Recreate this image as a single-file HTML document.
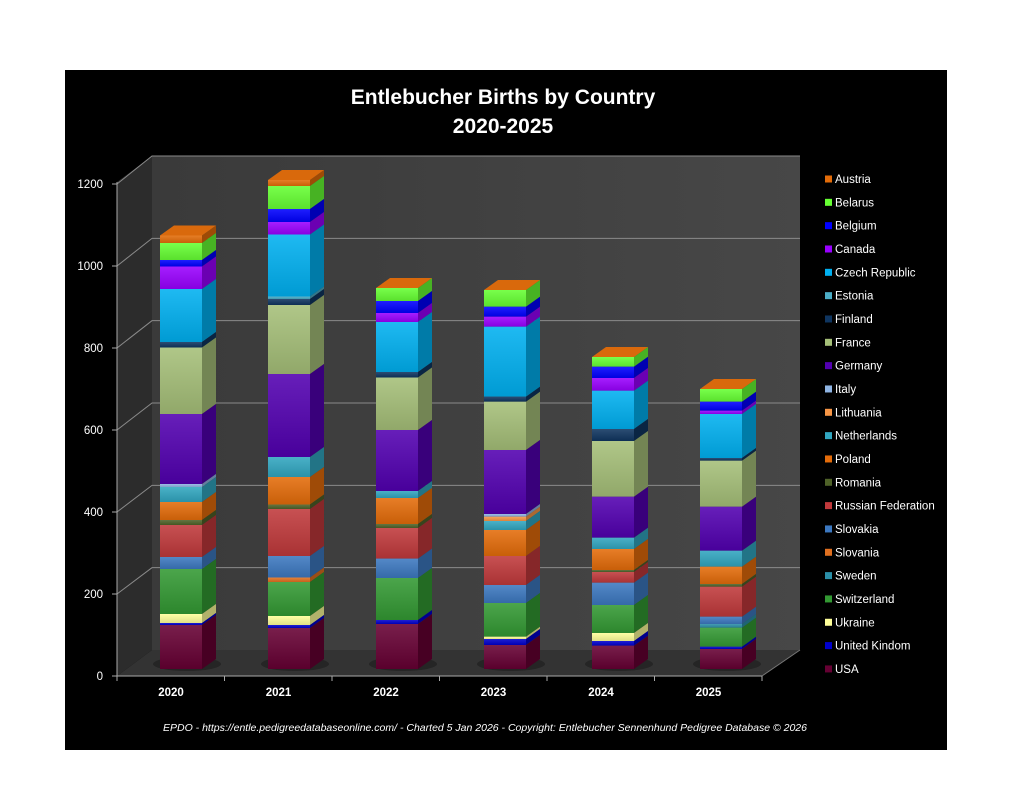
<!DOCTYPE html>
<html><head><meta charset="utf-8"><style>
html,body{margin:0;padding:0;background:#fff;}
svg{display:block;font-family:"Liberation Sans",sans-serif;}
</style></head><body>
<svg id="s" width="1024" height="792" viewBox="0 0 1024 792" xmlns="http://www.w3.org/2000/svg">
<defs>
<linearGradient id="bw" x1="0" y1="0" x2="1" y2="0"><stop offset="0" stop-color="#3a3a3a"/><stop offset="1" stop-color="#474747"/></linearGradient>
<linearGradient id="shade" x1="0" y1="0" x2="0" y2="1"><stop offset="0" stop-color="#fff" stop-opacity="0.12"/><stop offset="1" stop-color="#000" stop-opacity="0.12"/></linearGradient>
</defs>
<rect x="0" y="0" width="1024" height="792" fill="#fff"/>
<rect x="65" y="70" width="882" height="680" fill="#000"/>
<text x="503" y="104" fill="#fff" font-size="21" font-weight="bold" text-anchor="middle">Entlebucher Births by Country</text>
<text x="503" y="133" fill="#fff" font-size="21" font-weight="bold" text-anchor="middle">2020-2025</text>
<!-- walls -->
<polygon points="152,156 800,156 800,650 152,650" fill="url(#bw)"/>
<polygon points="117,182 152,156 152,650 117,676" fill="#2c2c2c"/>
<polygon points="117,676 152,650 800,650 762,676" fill="#333"/>
<g id="grid" stroke="#8a8a8a" stroke-width="1" fill="none"></g>
<g id="axis"></g>
<g id="bars"></g>
<g id="legend" font-size="11.5" fill="#fff"></g>
<text x="485" y="731" fill="#fff" font-size="10.5" font-style="italic" text-anchor="middle">EPDO - https://entle.pedigreedatabaseonline.com/ - Charted 5 Jan 2026 - Copyright: Entlebucher Sennenhund Pedigree Database © 2026</text>
</svg>
<script>
var NS="http://www.w3.org/2000/svg";
function el(p,t,a,txt){var e=document.createElementNS(NS,t);for(var k in a)e.setAttribute(k,a[k]);if(txt!=null)e.textContent=txt;p.appendChild(e);return e;}
var grid=document.getElementById('grid'),axis=document.getElementById('axis');
for(var i=0;i<=6;i++){
 var yb=650-i*82.33, yf=676-i*82;
 if(i>0) el(grid,'polyline',{points:"117,"+yf+" 152,"+yb+" 800,"+yb});
 el(axis,'line',{x1:112,y1:yf,x2:117,y2:yf,stroke:'#aaa'});
 el(axis,'text',{x:103,y:yf+4,fill:'#fff','font-size':'11.5','text-anchor':'end'},String(i*200));
}
el(axis,'line',{x1:117,y1:182,x2:117,y2:676,stroke:'#aaa'});
el(axis,'line',{x1:117,y1:676,x2:762,y2:676,stroke:'#aaa'});
el(axis,'line',{x1:762,y1:676,x2:800,y2:650,stroke:'#777'});
var years=['2020','2021','2022','2023','2024','2025'];
for(var j=0;j<=6;j++){var x=117+j*107.5;el(axis,'line',{x1:x,y1:676,x2:x,y2:681,stroke:'#aaa'});}
for(var j=0;j<6;j++) el(axis,'text',{x:171+j*107.5,y:696,fill:'#fff','font-size':'11.5','font-weight':'bold','text-anchor':'middle'},years[j]);
var C={Au:'#e36c09',Be:'#66ff33',Bg:'#0000ff',Ca:'#9900ff',Cz:'#00b0f0',Es:'#4bacc6',Fi:'#0f3560',Fr:'#a5bf78',Ge:'#5200b0',It:'#8fb4e3',Li:'#f79646',Ne:'#31a6c0',Po:'#e46c0a',Ro:'#4f6228',Ru:'#c0393b',Sk:'#3c78c0',Sl:'#e07020',Sw:'#2b8fa8',Sz:'#339933',Uk:'#ffff99',UK:'#0000cc',US:'#660033'};
var D=[
[160,235.5,[['Au',243],['Be',260],['Bg',266.5],['Ca',289],['Cz',342],['Fi',347.5],['Fr',414],['Ge',484],['It',487],['Ne',502],['Po',520],['Ro',525],['Ru',557],['Sk',569],['Sz',614],['Uk',623],['UK',625],['US',669]]],
[268,180,[['Au',186],['Be',209],['Bg',222],['Ca',234.5],['Cz',296.5],['Es',299],['Fi',305],['Fr',374],['Ge',457],['Ne',477],['Po',504.5],['Ro',509],['Ru',556],['Sk',577.5],['Sl',582],['Sz',616],['Uk',625],['UK',628],['US',669]]],
[376,288,[['Be',301],['Bg',313],['Ca',322],['Cz',372],['Fi',377.5],['Fr',430],['Ge',491],['Ne',498],['Po',524],['Ro',528],['Ru',558.6],['Sk',578],['Sz',620],['UK',624],['US',669]]],
[484,290,[['Be',306.7],['Bg',316.7],['Ca',326.7],['Cz',396.7],['Fi',401.7],['Fr',450],['Ge',514],['It',516.7],['Li',521],['Ne',530],['Po',556],['Ru',585],['Sk',603],['Sz',636.7],['Uk',639],['UK',645],['US',669]]],
[592,357,[['Be',366.7],['Bg',378],['Ca',390.7],['Cz',429],['Fi',441],['Fr',496.7],['Ge',537.7],['Ne',549],['Po',570],['Ro',572],['Ru',582.7],['Sk',605],['Sz',633],['Uk',641],['UK',645.7],['US',669]]],
[700,389,[['Be',401.7],['Bg',410.7],['Ca',414],['Cz',458],['Fi',460.7],['Fr',506.7],['Ge',550.7],['Ne',566.7],['Po',584],['Ro',586.7],['Ru',616.7],['Sk',624],['Sw',627.7],['Sz',646.7],['UK',649],['US',669]]]];
function dark(h,f){var n=parseInt(h.slice(1),16);var r=(n>>16)*f|0,g=((n>>8)&255)*f|0,b=(n&255)*f|0;return 'rgb('+r+','+g+','+b+')';}
var bars=document.getElementById('bars'),W=42,dx=14,dy=-10;
D.forEach(function(b){
 var x=b[0],y=b[1];
 el(bars,'ellipse',{cx:x+W/2+6,cy:664,rx:34,ry:7,fill:'#222',opacity:0.8});
 var first=true;
 b[2].forEach(function(s){
  var c=C[s[0]],y1=s[1];
  el(bars,'rect',{x:x,y:y,width:W,height:y1-y,fill:c});
  el(bars,'rect',{x:x,y:y,width:W,height:y1-y,fill:'url(#shade)'});
  el(bars,'polygon',{points:(x+W)+','+y+' '+(x+W+dx)+','+(y+dy)+' '+(x+W+dx)+','+(y1+dy)+' '+(x+W)+','+y1,fill:dark(c,0.7)});
  if(first){el(bars,'polygon',{points:x+','+y+' '+(x+dx)+','+(y+dy)+' '+(x+W+dx)+','+(y+dy)+' '+(x+W)+','+y,fill:'#d9690c'});first=false;}
  y=y1;
 });
});
var names=['Austria','Belarus','Belgium','Canada','Czech Republic','Estonia','Finland','France','Germany','Italy','Lithuania','Netherlands','Poland','Romania','Russian Federation','Slovakia','Slovania','Sweden','Switzerland','Ukraine','United Kindom','USA'];
var keys=['Au','Be','Bg','Ca','Cz','Es','Fi','Fr','Ge','It','Li','Ne','Po','Ro','Ru','Sk','Sl','Sw','Sz','Uk','UK','US'];
var lg=document.getElementById('legend');
for(var i=0;i<22;i++){var y=179+i*23.33;
 el(lg,'rect',{x:825,y:y-3.5,width:7,height:7,fill:C[keys[i]]});
 el(lg,'text',{x:835,y:y+4},names[i]);}
</script>
</body></html>
